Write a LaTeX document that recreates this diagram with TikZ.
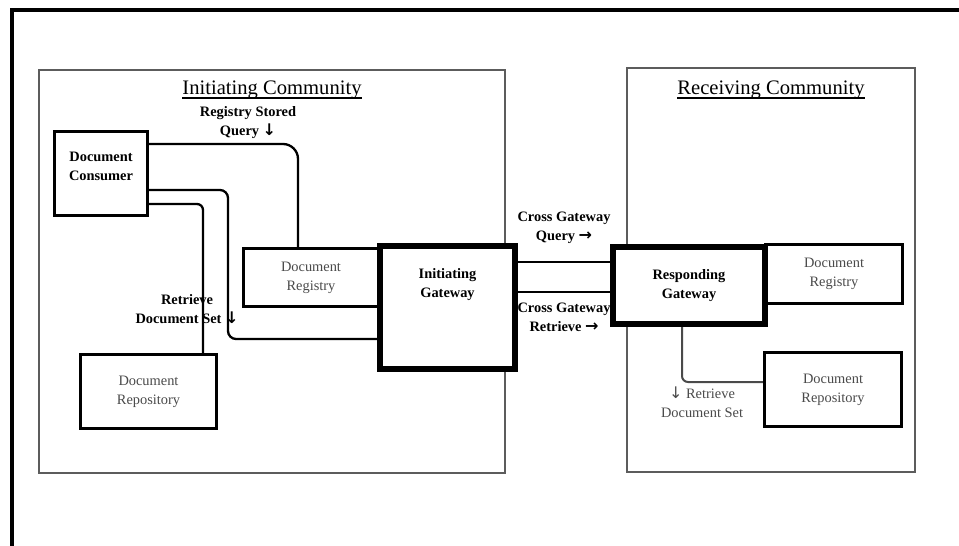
\documentclass[tikz,border=0pt]{standalone}
\usepackage{fontspec}
\setmainfont{Liberation Serif}
\newfontfamily\arrowfont{DejaVu Sans}
\usetikzlibrary{positioning,backgrounds}
\definecolor{dimtext}{HTML}{4A4A4A}
\definecolor{edgegray}{HTML}{5C5C5C}
\newcommand{\dnarr}{{\arrowfont\fontsize{16}{19}\selectfont ↓}}
\newcommand{\rtarr}{{\arrowfont\bfseries\fontsize{16}{19}\selectfont →}}

\begin{document}
\begin{tikzpicture}[x=1pt,y=-1pt,
  font=\fontsize{14.4}{19}\selectfont,
  box/.style={draw=black,fill=white,line width=3pt,inner sep=0pt,align=center,text=dimtext},
  gate/.style={box,line width=6pt,text=black,font=\fontsize{14.4}{19}\selectfont\bfseries},
  comm/.style={draw=edgegray,line width=1.3pt,inner sep=0pt},
  title/.style={font=\fontsize{20.6}{24}\selectfont,inner sep=0pt},
  uline/.style={line width=1.3pt},
  conn/.style={line width=2.3pt,black},
  tag/.style={align=center,font=\fontsize{14.4}{19}\selectfont\bfseries,inner sep=0pt}]
  \useasboundingbox (0,0) rectangle (959,546);
  % communities
  \node[title,anchor=base] (initt) at (272,94.5) {Initiating Community};
  \node[title,anchor=base] (recvt) at (771,94.5) {Receiving Community};
  \draw[uline] ([yshift=-3.5pt]initt.base west) -- ([yshift=-3.5pt]initt.base east);
  \draw[uline] ([yshift=-3.5pt]recvt.base west) -- ([yshift=-3.5pt]recvt.base east);
  % initiating side
  \node[box,minimum width=93pt,minimum height=84pt] (cons) at (101,173.5) {};
  \node[tag,yshift=7.5pt] (const) at (cons) {Document\\Consumer};
  \node[box,minimum width=135pt,minimum height=58pt] (regL) at (311,277.5) {Document\\Registry};
  \node[box,minimum width=136pt,minimum height=74pt] (repoL) at (148.5,391.5) {Document\\Repository};
  \node[gate,minimum width=135pt,minimum height=123pt] (igw) at (447.5,307.5) {};
  \node[tag,yshift=22.5pt] (igwt) at (igw) {Initiating\\Gateway};
  % receiving side
  \node[box,minimum width=137pt,minimum height=59pt] (regR) at (834,274) {Document\\Registry};
  \node[box,minimum width=137pt,minimum height=74pt] (repoR) at (833,389.5) {Document\\Repository};
  \node[gate,minimum width=152pt,minimum height=77pt] (rgw) at (689,285.5) {Responding\\Gateway};
  % transaction labels
  \node[tag] (rsq) at (248,123) {Registry Stored\\Query \dnarr};
  \node[tag] (rds) at (187,309.5) {Retrieve\\Document Set \dnarr};
  \node[tag] (cgq) at (564,227.5) {Cross Gateway\\Query \rtarr};
  \node[tag] (cgr) at (564,317) {Cross Gateway\\Retrieve \rtarr};
  \node[tag,font=\fontsize{14.4}{19}\selectfont,text=dimtext] (rdsR) at (702,402.5) {\dnarr\ Retrieve\\Document Set};
  \begin{scope}[on background layer]
    \node[comm,minimum width=466pt,minimum height=403pt] (initc) at (272,271.5) {};
    \node[comm,minimum width=288pt,minimum height=404pt] (recvc) at (771,270) {};
    \draw[line width=4pt] (12,546) -- (12,10.3) -- (959,10.3);
    \draw[conn,rounded corners=15pt] ([yshift=29.5pt]cons.east) -| ([xshift=-13pt]regL.north);
    \draw[conn,rounded corners=8pt] ([yshift=-16.5pt]cons.east) -| ([xshift=-149pt,yshift=-31.5pt]igw.west) -- ([yshift=-31.5pt]igw.west);
    \draw[conn,rounded corners=6pt] ([yshift=-30.5pt]cons.east) -| ([xshift=54.5pt]repoL.north);
    \draw[conn] ([yshift=45.5pt]igw.east) -- ([yshift=23.5pt]rgw.west);
    \draw[conn] ([yshift=15.5pt]igw.east) -- ([yshift=-6.5pt]rgw.west);
    \draw[conn,draw=dimtext,line width=2pt,rounded corners=6pt] ([xshift=-7pt]rgw.south) |- ([yshift=7.5pt]repoR.west);
  \end{scope}
\end{tikzpicture}
\end{document}
